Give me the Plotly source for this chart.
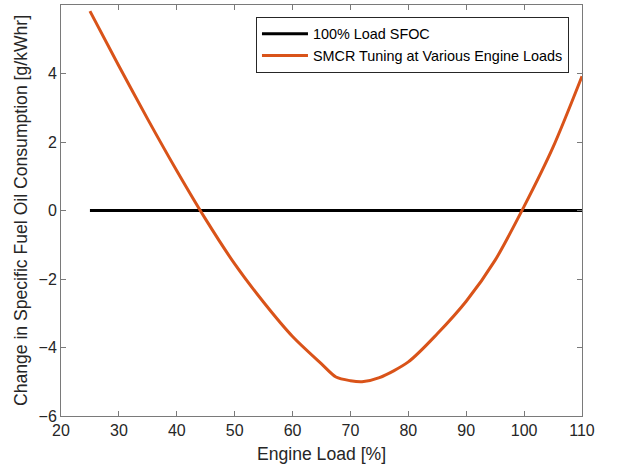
import plotly.graph_objects as go

# Data
engine_load = [25, 30, 35, 40, 45, 50, 55, 60, 65, 67.5, 70, 72, 75, 80, 85, 90, 95, 100, 105, 110]
sfoc_change = [5.82, 4.22, 2.66, 1.16, -0.26, -1.56, -2.68, -3.68, -4.48, -4.86, -4.97, -5.0, -4.88,
               -4.42, -3.6, -2.65, -1.45, 0.12, 1.85, 3.92]
baseline_x = [25, 110]
baseline_y = [0, 0]

x_ticks = [20, 30, 40, 50, 60, 70, 80, 90, 100, 110]
y_ticks = [-6, -4, -2, 0, 2, 4, 6]

FONT = "Liberation Sans, Arial, Helvetica, sans-serif"
AX = "#7a7a7a"
TXT = "#262626"

fig = go.Figure()
fig.add_trace(go.Scatter(x=baseline_x, y=baseline_y, mode="lines",
                         line=dict(color="#000000", width=3), name="100% Load SFOC"))
fig.add_trace(go.Scatter(x=engine_load, y=sfoc_change, mode="lines",
                         line=dict(color="#D95319", width=3, shape="spline", smoothing=0.8),
                         name="SMCR Tuning at Various Engine Loads"))

axis_common = dict(showline=True, linecolor=AX, linewidth=1, mirror="ticks", ticks="inside",
                   ticklen=5, tickcolor=AX, showgrid=False, zeroline=False,
                   tickfont=dict(family=FONT, size=16, color=TXT))

fig.update_layout(
    width=618, height=472,
    margin=dict(l=61, r=36, t=5, b=56),
    paper_bgcolor="white", plot_bgcolor="white",
    font=dict(family=FONT, color=TXT),
    xaxis=dict(range=[20, 110], tickvals=x_ticks,
               title=dict(text="Engine Load [%]", font=dict(family=FONT, size=17.6, color=TXT), standoff=9),
               **axis_common),
    yaxis=dict(range=[-6, 6], tickvals=y_ticks,
               title=dict(text="Change in Specific Fuel Oil Consumption [g/kWhr]",
                          font=dict(family=FONT, size=17.6, color=TXT), standoff=6),
               **axis_common),
    legend=dict(x=0.975, y=0.971, xanchor="right", yanchor="top",
                bgcolor="white", bordercolor=TXT, borderwidth=1,
                font=dict(family=FONT, size=14.4, color="#000000"),
                itemwidth=46, tracegroupgap=0),
    showlegend=True,
)

fig.write_html("out.html")
